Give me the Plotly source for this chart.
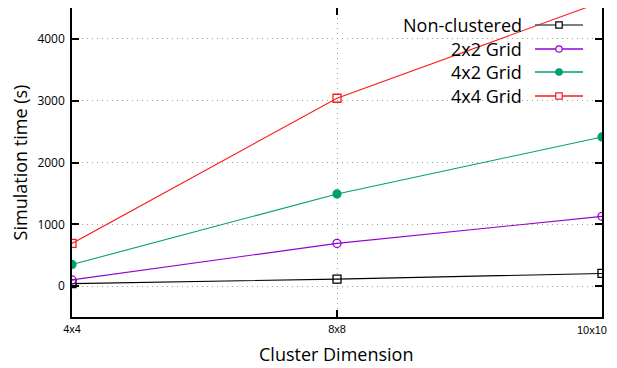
import plotly.graph_objects as go

# ---- data ----
categories = ["4x4", "8x8", "10x10"]
series_names = ["Non-clustered", "2x2 Grid", "4x2 Grid", "4x4 Grid"]
non_clustered = [40, 113, 205]
grid_2x2 = [100, 691, 1129]
grid_4x2 = [350, 1490, 2413]
grid_4x4 = [690, 3040, 4600]
y_tick_vals = [0, 1000, 2000, 3000, 4000]
x_title = "Cluster Dimension"
y_title = "Simulation time (s)"

values = [non_clustered, grid_2x2, grid_4x2, grid_4x4]
colors = ["#000000", "#9400d3", "#009e73", "#ff1a1a"]
symbols = ["square-open", "circle-open", "circle", "square-open"]
msizes = [8, 8, 8, 8]

# page content is offset by the default 8px body margin
OFF = 8
PAGE_W, PAGE_H = 617, 368
PLOT_L, PLOT_R, PLOT_T, PLOT_B = 72, 602, 8, 317   # plot area in page px
W, H = PAGE_W - OFF, PAGE_H - OFF
ML, MT = PLOT_L - OFF, PLOT_T - OFF
MR = W - (PLOT_R - OFF)
MB = H - (PLOT_B - OFF)
PW, PH = PLOT_R - PLOT_L, PLOT_B - PLOT_T


def px2x(px):  # page px -> paper fraction
    return (px - PLOT_L) / PW


def px2y(py):
    return (PLOT_B - py) / PH


# the last tick label sits at the right edge; it is written right-aligned as an annotation
x_tick_text = categories[:-1] + [""]

fig = go.Figure()
for name, vals, col, sym, ms in zip(series_names, values, colors, symbols, msizes):
    fig.add_trace(go.Scatter(
        x=categories, y=vals, name=name, mode="lines+markers",
        line=dict(color=col, width=1.1),
        marker=dict(symbol=sym, size=ms, color=col, line=dict(color=col, width=1.3)),
        showlegend=False, cliponaxis=True,
    ))

shapes = []
annotations = []
# white key box hiding grid lines (drawn between grid and traces)
shapes.append(dict(type="rect", xref="paper", yref="paper", layer="between",
                   x0=px2x(383), x1=1.0, y0=px2y(110), y1=1.0,
                   fillcolor="white", line=dict(width=0)))

row_y = [25, 49, 72, 96]
for name, col, sym, ry in zip(series_names, colors, symbols, row_y):
    annotations.append(dict(text=name, xref="paper", yref="paper",
                            x=px2x(524), y=px2y(ry), xanchor="right", yanchor="middle",
                            showarrow=False, font=dict(size=18, color="#000000")))
    lc = "#555555" if col == "#000000" else col
    shapes.append(dict(type="line", xref="paper", yref="paper",
                       x0=px2x(535), x1=px2x(583), y0=px2y(ry), y1=px2y(ry),
                       line=dict(color=lc, width=1.5)))
    r = 3.2
    kind = "rect" if sym.startswith("square") else "circle"
    filled = not sym.endswith("open")
    shapes.append(dict(type=kind, xref="paper", yref="paper",
                       x0=px2x(559 - r), x1=px2x(559 + r),
                       y0=px2y(ry + r), y1=px2y(ry - r),
                       fillcolor=col if filled else "white",
                       line=dict(color=col, width=1.2)))

# last x tick label (right aligned at the edge) and x-axis title
annotations.append(dict(text=categories[-1], xref="paper", yref="paper",
                        x=px2x(609), y=px2y(330), xanchor="right", yanchor="middle",
                        showarrow=False,
                        font=dict(family="Liberation Sans", size=11, color="#000000")))
annotations.append(dict(text=x_title, xref="paper", yref="paper",
                        x=px2x(336), y=px2y(354), xanchor="center", yanchor="middle",
                        showarrow=False,
                        font=dict(family="Open Sans", size=18, color="#000000")))

axis_common = dict(
    showline=True, linecolor="#000000", linewidth=1.5, mirror="ticks",
    ticks="inside", ticklen=7, tickwidth=1.5, tickcolor="#000000",
    showgrid=True, gridcolor="#a0a0a0", griddash="1px,4px", gridwidth=1,
    zeroline=False,
)

fig.update_layout(
    width=W, height=H,
    margin=dict(l=ML, r=MR, t=MT, b=MB, autoexpand=False),
    paper_bgcolor="white", plot_bgcolor="white",
    font=dict(family="Open Sans", color="#000000"),
    shapes=shapes, annotations=annotations,
    xaxis=dict(axis_common, type="category", range=[0, 2],
               categoryorder="array", categoryarray=categories,
               tickvals=categories, ticktext=x_tick_text,
               ticklabelstandoff=1, automargin=False,
               tickfont=dict(family="Liberation Sans", size=11, color="#000000")),
    yaxis=dict(axis_common, range=[-500, 4500], tickvals=y_tick_vals,
               ticklabelstandoff=3, automargin=False,
               tickfont=dict(family="Open Sans", size=12, color="#000000"),
               title=dict(text=y_title, font=dict(size=18), standoff=10)),
)

fig.write_html("out.html")
